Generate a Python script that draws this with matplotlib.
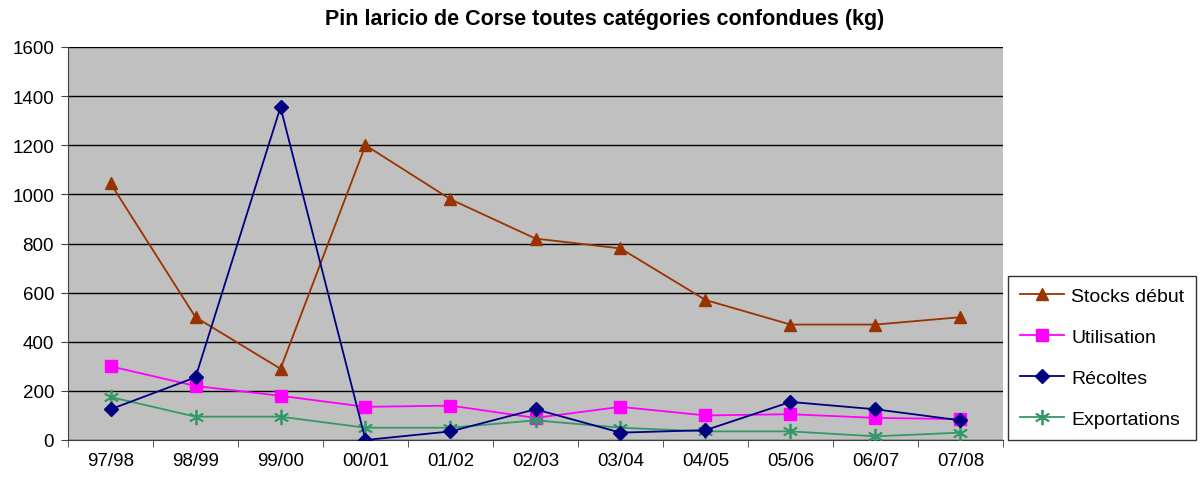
import matplotlib
matplotlib.use("Agg")
import matplotlib.pyplot as plt
import numpy as np

plt.rcParams['font.family'] = ['Liberation Sans', 'DejaVu Sans']

categories = ["97/98", "98/99", "99/00", "00/01", "01/02", "02/03", "03/04", "04/05", "05/06", "06/07", "07/08"]
stocks = [1045, 500, 290, 1200, 980, 820, 780, 570, 470, 470, 500]
utilisation = [300, 220, 180, 135, 140, 90, 135, 100, 105, 90, 85]
recoltes = [125, 255, 1355, 0, 35, 125, 30, 40, 155, 125, 80]
exportations = [175, 95, 95, 50, 50, 80, 50, 35, 35, 15, 30]

fig = plt.figure(figsize=(12.02, 4.85), dpi=100)
ax = fig.add_axes([68/1202, 1-441/485, (1003-68)/1202, (441-48)/485])
ax.set_facecolor('#C0C0C0')
x = np.arange(len(categories))

ax.plot(x, stocks, color='#993300', marker='^', markersize=9, lw=1.3, label='Stocks début', zorder=3)
ax.plot(x, utilisation, color='#FF00FF', marker='s', markersize=8, lw=1.3, label='Utilisation', zorder=3)
ax.plot(x, recoltes, color='#000080', marker='D', markersize=7, lw=1.3, label='Récoltes', zorder=4)
ax.plot(x, exportations, color='#339966', marker=(6, 2, 0), markersize=11, mew=1.3, lw=1.3, label='Exportations', zorder=3)

ax.set_xlim(-0.5, len(categories) - 0.5)
ax.set_ylim(0, 1600)
ax.set_yticks(np.arange(0, 1601, 200))
ax.yaxis.grid(True, color='black', lw=1)
ax.set_axisbelow(True)
ax.set_xticks(x)
ax.set_xticklabels(categories)
ax.set_xticks(np.arange(-0.5, len(categories), 1), minor=True)
ax.tick_params(axis='x', which='major', length=0, pad=9, labelsize=13.5)
ax.tick_params(axis='x', which='minor', length=5, direction='out', color='#404040')
ax.tick_params(axis='y', length=5, labelsize=13.5, pad=5, color='#404040')
for s in ['top', 'right']:
    ax.spines[s].set_visible(False)
for s in ['left', 'bottom']:
    ax.spines[s].set_color('#404040')

fig.text(605/1202, 1-19/485, 'Pin laricio de Corse toutes catégories confondues (kg)',
         fontsize=15.5, fontweight='bold', ha='center', va='center')

leg = fig.legend(loc='upper left', bbox_to_anchor=(1008/1202, 1-277/485), fontsize=14,
                 frameon=True, fancybox=False, edgecolor='black', borderpad=0.6,
                 labelspacing=1.2, handlelength=2.3, handletextpad=0.35, borderaxespad=0)
leg.get_frame().set_linewidth(1)

fig.savefig('out.png', dpi=100, facecolor='white')
